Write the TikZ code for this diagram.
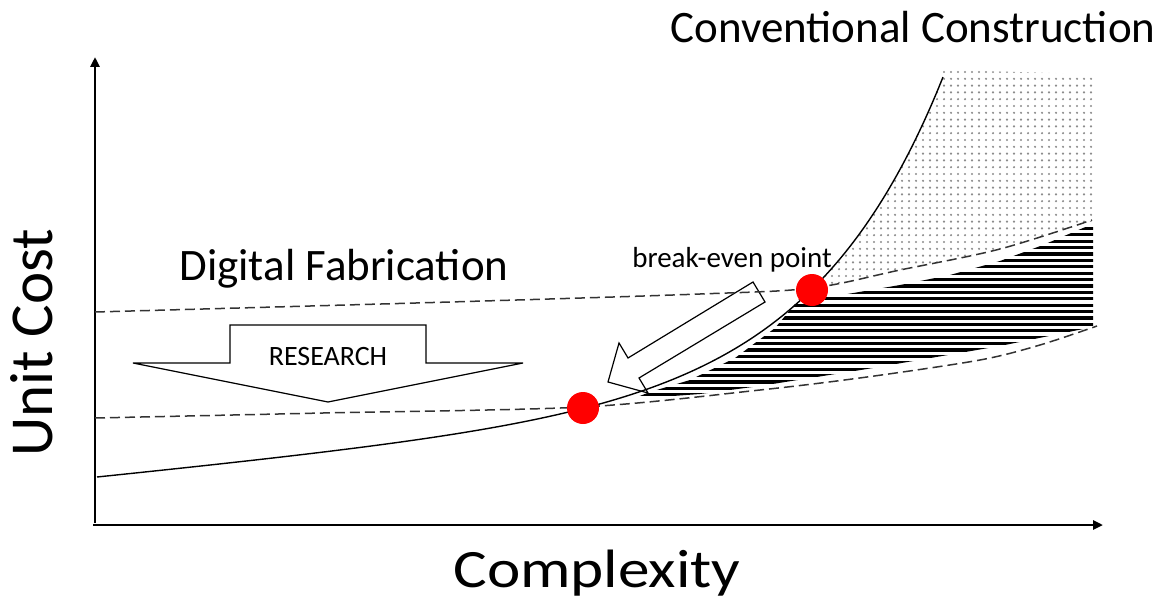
\documentclass[tikz,border=0pt]{standalone}
\usepackage{fontspec}
\setmainfont{Carlito}
\usetikzlibrary{arrows.meta}
\begin{document}
\begin{tikzpicture}[x=1pt,y=-1pt,
  axis/.style={line width=2.6pt,-{Triangle[length=10pt,width=9pt]}},
  cost/.style={line width=1.4pt,black},
  trend/.style={line width=1.5pt,black!80,dash pattern=on 10pt off 5pt},
  dot/.style={circle,fill=red,inner sep=0pt,minimum size=32pt},
  block/.style={draw=black,fill=white,line width=1.2pt,line join=miter},
  lbl/.style={inner sep=0pt,text=black}
]
\useasboundingbox (0,0) rectangle (1164,599);

% horizontally hatched band between the two trend curves
\begin{scope}
  \clip (800,298) -- (830,297) -- (900,285) -- (950,275) -- (1000,261) -- (1043,245)
        -- (1083,228) -- (1093,224) -- (1093,327) -- (1000,346) -- (867,369)
        -- (760,386) -- (700,394) -- (632,399) -- (650,392) -- (690,380) -- (735,358)
        -- (775,328) -- cycle;
  \foreach \y in {222,228.4,...,402} \draw[line width=3.3pt] (600,\y) -- (1100,\y);
\end{scope}

% dotted area above the upper trend curve
\begin{scope}
  \clip (812,289) -- (827,274) -- (860,233) -- (893,182) -- (927,115) -- (943,77)
        -- (943,70) -- (1093,74) -- (1093,221) -- (1000,249) -- (900,270) -- cycle;
  \foreach \x in {818,825,...,1096}
    \foreach \y in {72,78.8,...,300}
      \fill[black!45] (\x,\y) circle (1.2pt);
\end{scope}

% axes
\coordinate (O) at (95,525);
\coordinate (ytop) at (95,57);
\coordinate (xend) at (1103,525);
\draw[axis] ([yshift=2pt]O) -- (ytop);
\draw[axis] ([xshift=-2pt]O) -- (xend);

% RESEARCH block arrow
\draw[block] (230,325) -- (426,325) -- (426,363) -- (523,363) -- (328,402)
             -- (133,363) -- (230,363) -- cycle;
\node[lbl,font=\fontsize{28}{32}\selectfont,anchor=base] (research) at (328,365) {RESEARCH};

% arrow from the upper to the lower break-even point
\draw[block] (753,282) -- (628,358) -- (619,343) -- (608,382) -- (648,393)
             -- (639,378) -- (765,302) -- cycle;

% conventional construction cost: linear part plus exponential growth
\draw[cost] plot[domain=0:846,samples=220]
  ({97+\x},{477-0.1*\x-0.51*(exp(0.0076*\x)-1)});
% digital fabrication cost, before and after research
\draw[trend] plot[smooth,tension=0.55] coordinates {(95,312) (450,302) (700,294)
  (812,288) (900,270) (1000,249) (1092,220)};
\draw[trend] plot[smooth] coordinates {(95,418) (323,413) (583,407) (760,390) (867,377)
  (980,360) (1040,345) (1097,326)};

% break-even points
\node[dot] (be1) at (583,408) {};
\node[dot] (be2) at (812,290) {};

% labels
\node[lbl,font=\fontsize{45}{50}\selectfont,anchor=base] (conv) at (913,43) {Conventional Construction};
\node[lbl,font=\fontsize{45}{50}\selectfont,anchor=base] (digi) at (344,280) {Digital Fabrication};
\node[lbl,font=\fontsize{29}{33}\selectfont,anchor=base] (bep) at (732,267) {break-even point};
\node[lbl,font=\fontsize{54}{60}\selectfont,anchor=base] (cx) at (597,587) {\scalebox{1.17}[1]{Complexity}};
\node[lbl,font=\fontsize{61}{66}\selectfont,anchor=base,rotate=90] (uc) at (52,343) {Unit Cost};
\end{tikzpicture}
\end{document}
